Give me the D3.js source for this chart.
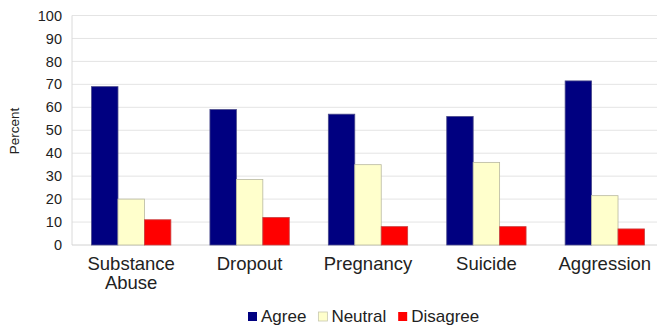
<!DOCTYPE html>
<html>
<head>
<meta charset="utf-8">
<script src="https://cdn.jsdelivr.net/npm/d3@7"></script>
<style>
  html, body { margin: 0; padding: 0; background: #fff; }
  svg { display: block; font-family: "Liberation Sans", Arial, sans-serif; }
</style>
</head>
<body>
<svg id="chart" width="657" height="329"></svg>
<script>
// Survey responses by risk area (percent of respondents)
const categories = [["Substance", "Abuse"], ["Dropout"], ["Pregnancy"], ["Suicide"], ["Aggression"]];
const seriesNames = ["Agree", "Neutral", "Disagree"];
const agree    = [69, 59, 57, 56, 71.5];
const neutral  = [20, 28.5, 35, 36, 21.5];
const disagree = [11, 12, 8, 8, 7];
const yTicks = [0, 10, 20, 30, 40, 50, 60, 70, 80, 90, 100];
const seriesColors = ["#000080", "#ffffcc", "#ff0000"];

const seriesValues = [agree, neutral, disagree];
const catKeys = categories.map(c => c.join(" "));

const svg = d3.select("#chart");
const W = 657, H = 329;
const plot = { left: 72, right: 664, top: 15.5, bottom: 245 };

const x = d3.scaleBand().domain(catKeys).range([plot.left, plot.right]).paddingInner(0.33).paddingOuter(0.165);
const xs = d3.scaleBand().domain(seriesNames).range([0, x.bandwidth()]);
const y = d3.scaleLinear().domain([0, 100]).range([plot.bottom, plot.top]);

const clip = svg.append("defs").append("clipPath").attr("id", "area")
  .append("rect").attr("x", 0).attr("y", 0).attr("width", W).attr("height", H);

const g = svg.append("g").attr("clip-path", "url(#area)");

// horizontal gridlines
g.append("g").selectAll("line").data(yTicks.filter(t => t > 0)).join("line")
  .attr("x1", plot.left).attr("x2", plot.right)
  .attr("y1", d => y(d)).attr("y2", d => y(d))
  .attr("stroke", "#e4e4e4").attr("stroke-width", 1);

// left axis line and baseline
g.append("line").attr("x1", plot.left).attr("x2", plot.left)
  .attr("y1", y(100)).attr("y2", y(0)).attr("stroke", "#dadada");
g.append("line").attr("x1", plot.left).attr("x2", plot.right)
  .attr("y1", y(0)).attr("y2", y(0)).attr("stroke", "#d2d2d2");

// y tick labels
const yAxis = d3.axisLeft(y).tickValues(yTicks).tickSize(0).tickPadding(10);
const ya = svg.append("g").attr("transform", `translate(${plot.left},0)`).call(yAxis);
ya.select(".domain").remove();
ya.selectAll("text").attr("font-size", 14.5).attr("fill", "#222")
  .attr("font-family", "Liberation Sans, Arial, sans-serif");

// y axis title
svg.append("text").attr("transform", "translate(19,131) rotate(-90)")
  .attr("text-anchor", "middle").attr("font-size", 13.5).attr("fill", "#222")
  .text("Percent");

// bars
const groups = g.append("g").selectAll("g").data(catKeys).join("g")
  .attr("transform", d => `translate(${x(d)},0)`);
groups.selectAll("rect").data((d, i) => seriesNames.map((s, j) => ({ s, j, v: seriesValues[j][i] })))
  .join("rect")
  .attr("x", d => xs(d.s))
  .attr("width", xs.bandwidth())
  .attr("y", d => y(d.v))
  .attr("height", d => y(0) - y(d.v))
  .attr("fill", d => seriesColors[d.j])
  .attr("stroke", d => d.j === 1 ? "#b8b8a0" : (d.j === 0 ? "#4a4a8a" : "#c84040"))
  .attr("stroke-width", 0.8);

// category labels
const cl = svg.append("g").selectAll("text").data(categories).join("text")
  .attr("x", (d, i) => x(catKeys[i]) + x.bandwidth() / 2)
  .attr("y", 269.5)
  .attr("text-anchor", "middle").attr("font-size", 18.5).attr("fill", "#222");
cl.selectAll("tspan").data(d => d).join("tspan")
  .attr("x", function () { return d3.select(this.parentNode).attr("x"); })
  .attr("dy", (d, i) => i === 0 ? 0 : 19)
  .text(d => d);

// legend
const legend = svg.append("g").attr("font-size", 17).attr("fill", "#222");
let cursor = 248;
seriesNames.forEach((name, j) => {
  legend.append("rect").attr("x", cursor).attr("y", 312).attr("width", 9).attr("height", 9)
    .attr("fill", seriesColors[j]).attr("stroke", j === 1 ? "#c8c8b0" : "none").attr("stroke-width", 0.8);
  const t = legend.append("text").attr("x", cursor + 13).attr("y", 322).text(name);
  cursor += 13 + t.node().getComputedTextLength() + 12;
});
</script>
</body>
</html>
